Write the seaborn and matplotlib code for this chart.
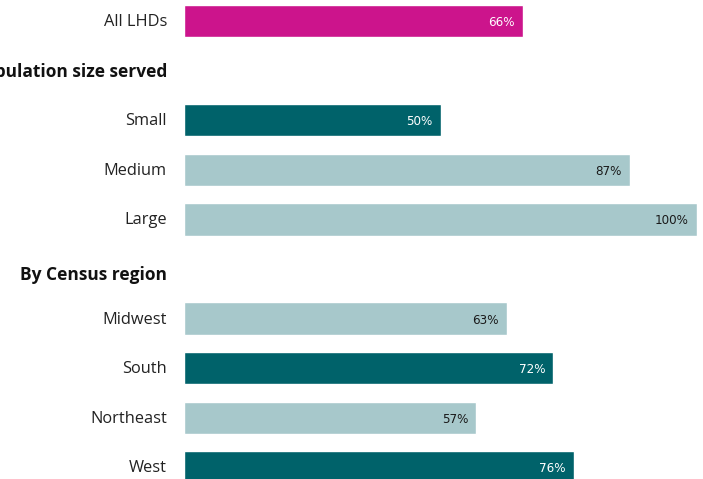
import matplotlib
matplotlib.use("Agg")
import matplotlib.pyplot as plt
import seaborn as sns
import pandas as pd

rows = ["All LHDs", "By population size served", "Small", "Medium", "Large",
        "By Census region", "Midwest", "South", "Northeast", "West"]
headers = ["By population size served", "By Census region"]
categories = ["All LHDs", "Small", "Medium", "Large", "Midwest", "South", "Northeast", "West"]
values = [66, 50, 87, 100, 63, 72, 57, 76]
groups = ["all", "dark", "light", "light", "light", "dark", "light", "dark"]
palette = {"all": "#CC148C", "dark": "#00626A", "light": "#A7C8CB"}
text_colors = {"all": "white", "dark": "white", "light": "#1a1a1a"}

sns.set_theme(style="white")
plt.rcParams["font.family"] = ["Open Sans", "DejaVu Sans"]

df = pd.DataFrame({"label": categories, "value": values, "group": groups})

W, H = 703, 479
fig = plt.figure(figsize=(W / 100, H / 100), dpi=100)
ax = fig.add_axes([184 / W, 0, (697 - 184) / W, 1])

sns.barplot(data=df, y="label", x="value", hue="group", palette=palette,
            order=rows, orient="h", width=0.65, dodge=False, legend=False, ax=ax,
            saturation=1)

ax.set_xlim(0, 100)
ax.set_ylim(9.234, -0.423)
for s in ax.spines.values():
    s.set_visible(False)
ax.set_xticks([])
ax.set_xlabel("")
ax.set_ylabel("")
ax.set_yticks([])

header_offsets = {"By population size served": 0.03, "By Census region": 0.12}
for i, r in enumerate(rows):
    if r in headers:
        ax.text(-17 / 513 * 100, i + header_offsets[r], r, ha="right", va="center",
                fontsize=12.5, fontweight="bold", color="#111111", clip_on=False)
    else:
        ax.text(-17 / 513 * 100, i + 0.02, r, ha="right", va="center",
                fontsize=11.8, color="#222222", clip_on=False)

for cat, v, g in zip(categories, values, groups):
    i = rows.index(cat)
    ax.text(v - 1.6, i + 0.03, f"{v}%", ha="right", va="center",
            fontsize=9.5, color=text_colors[g], family="DejaVu Sans",
            fontstretch="condensed")

fig.savefig("out.png", dpi=100)
